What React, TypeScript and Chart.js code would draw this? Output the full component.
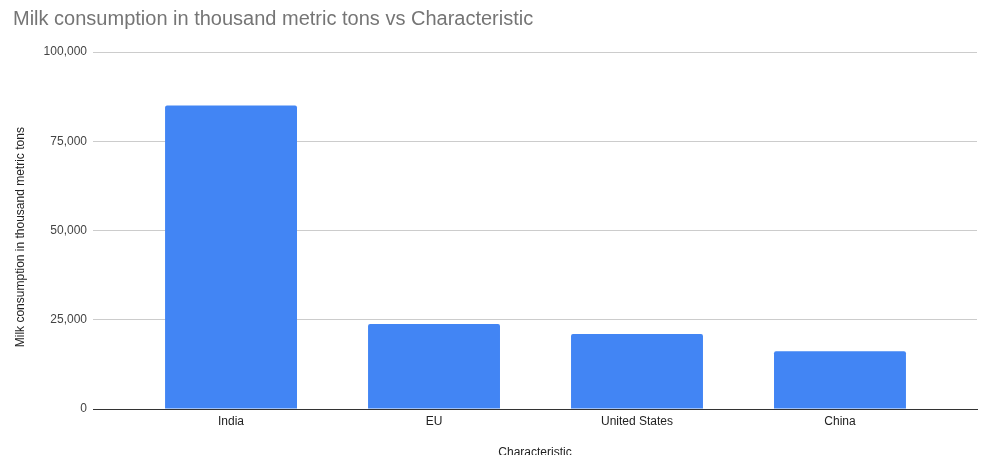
import React, { useEffect, useRef } from "react";
import { Chart, registerables } from "chart.js";

Chart.register(...registerables);

const categories = ["India", "EU", "United States", "China"];
const milkConsumption = [85000, 23800, 21000, 16200];
const yTicks = [0, 25000, 50000, 75000, 100000];

const FONT = "'Liberation Sans', Arial, sans-serif";
const W = 990;
const H = 470;
const PLOT_LEFT = 93;
const PLOT_BOTTOM = 409;

export default function App() {
  const ref = useRef<HTMLCanvasElement | null>(null);

  useEffect(() => {
    if (!ref.current) return;
    const chart = new Chart(ref.current, {
      type: "bar",
      data: {
        datasets: [
          {
            label: "Milk consumption in thousand metric tons",
            data: milkConsumption.map((v, i) => ({ x: i, y: v })),
            backgroundColor: "#4285F4",
            borderWidth: 0,
            borderRadius: { topLeft: 2, topRight: 2, bottomLeft: 0, bottomRight: 0 },
            barPercentage: 0.65,
            categoryPercentage: 1,
          },
        ],
      },
      options: {
        responsive: false,
        animation: false,
        devicePixelRatio: 1,
        layout: { padding: { left: 13, right: 13, top: 0, bottom: 0 } },
        plugins: {
          legend: { display: false },
          tooltip: { enabled: false },
          title: {
            display: true,
            text: "Milk consumption in thousand metric tons vs Characteristic",
            align: "start",
            color: "#757575",
            font: { family: FONT, size: 20, weight: "normal" },
            padding: { top: 7, bottom: 21 },
          },
        },
        scales: {
          x: {
            type: "linear",
            min: -0.68,
            max: 3.675,
            offset: false,
            grid: { display: false, drawTicks: false },
            border: { display: true, color: "#333333", width: 1 },
            afterBuildTicks: (scale: any) => {
              scale.ticks = categories.map((_, i) => ({ value: i }));
            },
            afterFit: (scale: any) => {
              scale.height = H - PLOT_BOTTOM;
            },
            ticks: {
              autoSkip: false,
              maxRotation: 0,
              padding: 5,
              color: "#222222",
              font: { family: FONT, size: 12 },
              callback: (v: any) => categories[v as number] ?? "",
            },
            title: {
              display: true,
              text: "Characteristic",
              color: "#222222",
              font: { family: FONT, size: 12 },
              padding: { top: 0, bottom: 10 },
            },
          },
          y: {
            min: 0,
            max: 100000,
            afterBuildTicks: (scale: any) => {
              scale.ticks = yTicks.map((v) => ({ value: v }));
            },
            afterFit: (scale: any) => {
              scale.width = PLOT_LEFT - 13;
            },
            grid: {
              drawTicks: false,
              color: (ctx: any) => (ctx.tick && ctx.tick.value === 0 ? "#333333" : "#cccccc"),
            },
            border: { display: false },
            ticks: {
              padding: 6,
              color: "#444444",
              font: { family: FONT, size: 12 },
              callback: (v: any) => Number(v).toLocaleString("en-US"),
            },
            title: {
              display: true,
              text: "Milk consumption in thousand metric tons    ",
              color: "#222222",
              font: { family: FONT, size: 12 },
              padding: { top: 0, bottom: 0 },
            },
          },
        },
      },
    });
    return () => chart.destroy();
  }, []);

  return (
    <div
      style={{
        position: "fixed",
        left: 0,
        top: 0,
        width: W,
        height: 455,
        overflow: "hidden",
        background: "#ffffff",
      }}
    >
      <canvas ref={ref} width={W} height={H} style={{ display: "block", width: W, height: H }} />
    </div>
  );
}
